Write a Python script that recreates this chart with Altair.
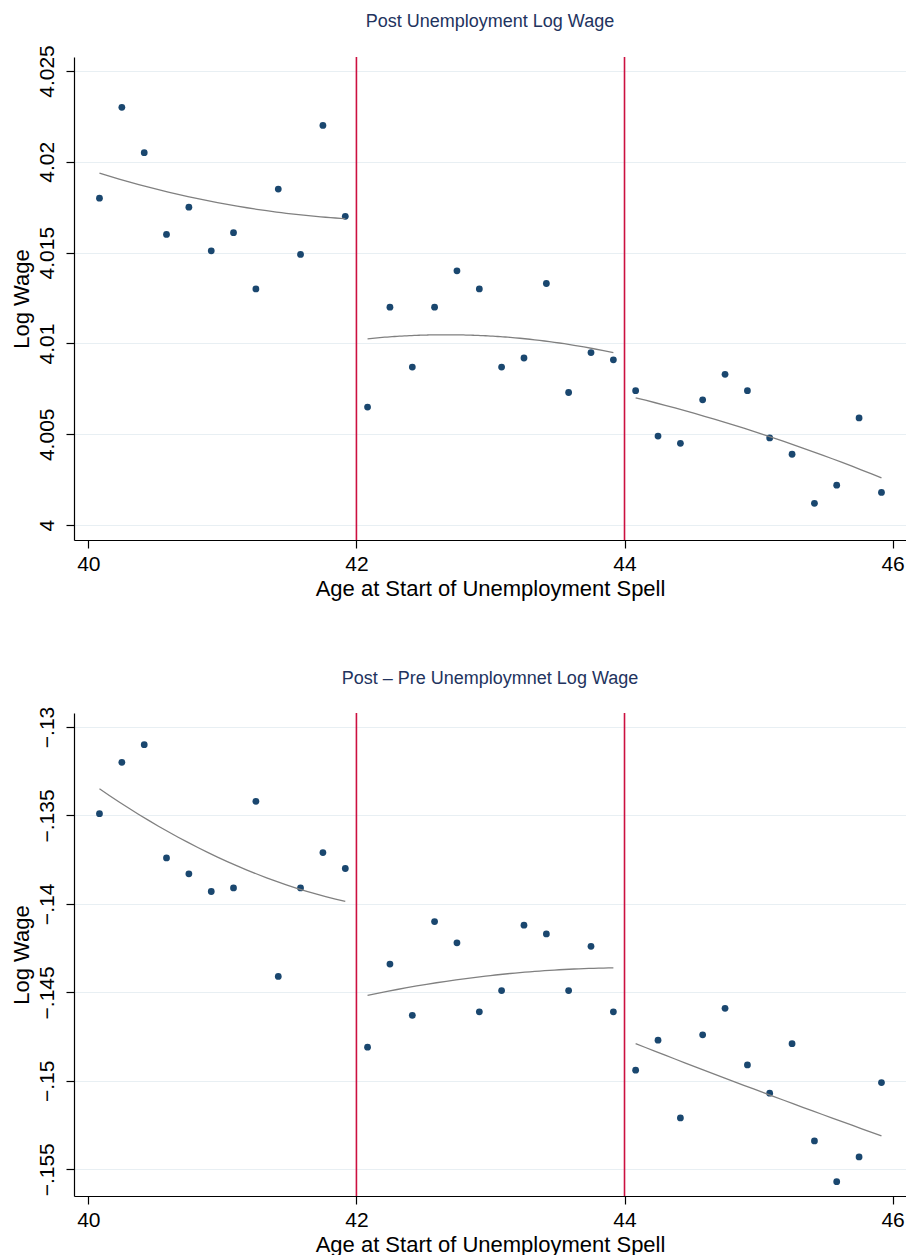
import altair as alt
import pandas as pd

# ---------------- data ----------------
ages = [40.083, 40.25, 40.417, 40.583, 40.75, 40.917, 41.083, 41.25, 41.417, 41.583, 41.75, 41.917,
        42.083, 42.25, 42.417, 42.583, 42.75, 42.917, 43.083, 43.25, 43.417, 43.583, 43.75, 43.917,
        44.083, 44.25, 44.417, 44.583, 44.75, 44.917, 45.083, 45.25, 45.417, 45.583, 45.75, 45.917]
segments = ["a"] * 12 + ["b"] * 12 + ["c"] * 12

post_wage = [4.0180, 4.0230, 4.0205, 4.0160, 4.0175, 4.0151, 4.0161, 4.0130, 4.0185, 4.0149, 4.0220, 4.0170,
             4.0065, 4.0120, 4.0087, 4.0120, 4.0140, 4.0130, 4.0087, 4.0092, 4.0133, 4.0073, 4.0095, 4.0091,
             4.0074, 4.0049, 4.0045, 4.0069, 4.0083, 4.0074, 4.0048, 4.0039, 4.0012, 4.0022, 4.0059, 4.0018]

diff_wage = [-.1349, -.1320, -.1310, -.1374, -.1383, -.1393, -.1391, -.1342, -.1441, -.1391, -.1371, -.1380,
             -.1481, -.1434, -.1463, -.1410, -.1422, -.1461, -.1449, -.1412, -.1417, -.1449, -.1424, -.1461,
             -.1494, -.1477, -.1521, -.1474, -.1459, -.1491, -.1507, -.1479, -.1534, -.1557, -.1543, -.1501]

# fitted curves
fit_age = [40.083, 40.577, 41.075, 41.572, 41.917,
           42.083, 42.57, 43.25, 43.65, 43.917,
           44.083, 45.083, 45.917]
fit_seg = ["a"] * 5 + ["b"] * 5 + ["c"] * 3
fit_post = [4.0193, 4.01857, 4.01747, 4.01705, 4.01692,
            4.01027, 4.01044, 4.0103, 4.00985, 4.00949,
            4.00701, 4.00487, 4.0026]
fit_diff = [-.13355, -.13572, -.13775, -.13929, -.13978,
            -.14518, -.14446, -.1439, -.14365, -.14362,
            -.1479, -.1508, -.15311]

cutoffs = [42, 44]
x_ticks = [40, 42, 44, 46]
post_ticks = [4, 4.005, 4.01, 4.015, 4.02, 4.025]
diff_ticks = [-.155, -.15, -.145, -.14, -.135, -.13]

titles = ["Post Unemployment Log Wage", "Post \u2013 Pre Unemploymnet Log Wage"]
x_title = "Age at Start of Unemployment Spell"
y_title = "Log Wage"

# ---------------- styling ----------------
FONT = "Liberation Sans"
POINT_COLOR = "#1a476f"
RED = "#cc1040"
FIT_COLOR = "#808080"
GRID = "#e8eff3"
W, H = 832, 483

label_expr = ("datum.value < 0 ? '\u2212' + replace(format(abs(datum.value), '.3~f'), '0.', '.') "
              ": format(datum.value, '.3~f')")


def panel(values, fits, ydomain, yticks, title, title_offset):
    pts = pd.DataFrame({"age": ages, "val": values, "seg": segments})
    fit = pd.DataFrame({"age": fit_age, "val": fits, "seg": fit_seg})
    cut = pd.DataFrame({"age": cutoffs})

    xs = alt.Scale(domain=[39.893, 46.1], nice=False, zero=False)
    ys = alt.Scale(domain=ydomain, nice=False, zero=False)

    xaxis = alt.Axis(values=x_ticks, title=x_title, grid=False, format="d")
    yaxis = alt.Axis(values=yticks, title=y_title, grid=True, labelExpr=label_expr)

    base_pts = alt.Chart(pts).mark_circle(size=46, color=POINT_COLOR, opacity=1).encode(
        x=alt.X("age:Q", scale=xs, axis=xaxis),
        y=alt.Y("val:Q", scale=ys, axis=yaxis),
    )
    rules = alt.Chart(cut).mark_rule(color=RED, strokeWidth=1.6).encode(
        x=alt.X("age:Q", scale=xs),
    )
    lines = alt.Chart(fit).transform_regression(
        "age", "val", method="poly", order=2, groupby=["seg"]
    ).mark_line(color=FIT_COLOR, strokeWidth=1.3).encode(
        x=alt.X("age:Q", scale=xs),
        y=alt.Y("val:Q", scale=ys),
        detail="seg:N",
    )
    return alt.layer(base_pts, rules, lines).properties(
        width=W, height=H,
        title=alt.TitleParams(title, font=FONT, fontSize=18, fontWeight="normal",
                              color="#22335e", anchor="middle", offset=title_offset),
    )


top = panel(post_wage, fit_post, [3.99918, 4.02577], post_ticks, titles[0], 14)
bottom = panel(diff_wage, fit_diff, [-.15651, -.12921], diff_ticks, titles[1], 18)

chart = alt.vconcat(top, bottom, spacing=71).properties(
    padding={"left": 10, "top": 12, "right": 0, "bottom": 0},
    background="white",
).configure_view(stroke=None).configure_axis(
    labelFont=FONT, titleFont=FONT, labelFontSize=21, titleFontSize=22,
    labelColor="black", titleColor="black", titleFontWeight="normal",
    domainColor="black", domainWidth=1.2, tickColor="black", tickSize=8, tickWidth=1.2,
    gridColor=GRID, gridWidth=1.2,
).configure_axisY(
    labelAngle=270, labelAlign="center", labelBaseline="bottom", labelPadding=9,
    titlePadding=3,
).configure_axisX(
    labelPadding=5, titlePadding=4,
)

chart.save("out.html", embed_options={"renderer": "svg", "actions": False})
